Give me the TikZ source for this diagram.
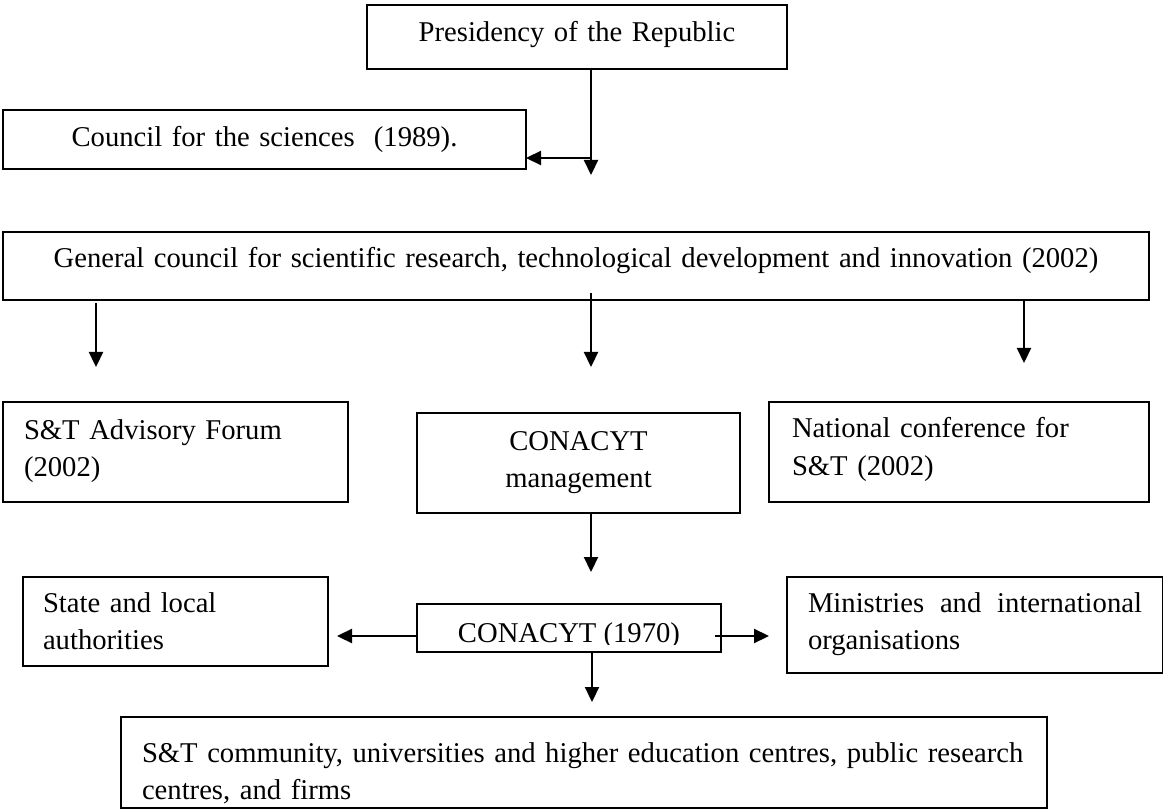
\documentclass[tikz,border=0pt]{standalone}
\usepackage{fontspec}
\setmainfont{Liberation Serif}
\usetikzlibrary{arrows.meta}
\begin{document}
\begin{tikzpicture}[x=1pt,y=-1pt,
  box/.style={draw, line width=1.6pt, anchor=north west, inner ysep=0pt,
    outer sep=0pt, font=\fontsize{28.65}{37.5}\selectfont},
  ctr/.style={align=center, inner xsep=0pt},
  lft/.style={align=left},
  arr/.style={line width=2.2pt, -{Triangle[length=15pt,width=14pt]}}]
\useasboundingbox (0,0) rectangle (1163,810);

% top level
\node[box, ctr, text width=420pt, text height=37pt, text depth=27pt]
  (pres) at (367,5) {Presidency of the Republic};
\node[box, ctr, text width=523pt, text height=37pt, text depth=22pt]
  (council) at (3,110) {Council for the sciences\ \ (1989).};
\node[box, ctr, text width=1146pt, text height=36pt, text depth=32pt]
  (general) at (3,232)
  {General council for scientific research, technological development and innovation (2002)};

% second level
\node[box, lft, inner xsep=21pt, text width=303pt, text height=37pt, text depth=63pt]
  (forum) at (3,402) {S\&T Advisory Forum\\(2002)};
\node[box, ctr, text width=323pt, text height=37pt, text depth=63pt]
  (mgmt) at (417,413) {CONACYT\\management};
\node[box, lft, inner xsep=23pt, text width=334pt, text height=36pt, text depth=64pt]
  (natconf) at (769,402) {National conference for\\S\&T (2002)};

% third level
\node[box, lft, inner xsep=20pt, text width=265pt, text height=35pt, text depth=54pt]
  (state) at (23,577) {State and local\\authorities};
\node[box, minimum width=304pt, minimum height=48pt, inner sep=0pt]
  (conacyt) at (417,604) {};
\begin{scope}
  \clip (417,604) rectangle (721,644);
  \node[anchor=base, inner sep=0pt, font=\fontsize{28.65}{37.5}\selectfont]
    (conacyttext) at (569,642) {CONACYT (1970)};
\end{scope}
\node[box, lft, inner xsep=21pt, text width=334pt, text height=35pt, text depth=61pt]
  (ministries) at (787,577)
  {\makebox[334pt][l]{Ministries\hfill and\hfill international}\\organisations};

% bottom level
\node[box, lft, inner xsep=21pt, text width=884pt, text height=45pt, text depth=46pt]
  (community) at (121,717)
  {\mbox{S\&T community, universities and higher education centres, public research}\\centres, and firms};

% arrow end points
\coordinate (ptip) at (591,175);
\coordinate (pjoin) at (591,158);
\coordinate (gtipl) at (96,367);
\coordinate (gtipc) at (591,367);
\coordinate (gtipr) at (1024,363);
\coordinate (mtip) at (591,572);
\coordinate (ltip) at (337,636);
\coordinate (rtip) at (769,636);
\coordinate (dtip) at (592,702);

% connectors
\draw[arr] (pres.south -| ptip) -- (ptip);
\draw[arr] (pjoin) -- (pjoin -| council.east);
\draw[arr] ([yshift=-3pt]general.south -| gtipl) -- (gtipl);
\draw[arr] ([yshift=7pt]general.south -| gtipc) -- (gtipc);
\draw[arr] (general.south -| gtipr) -- (gtipr);
\draw[arr] (mgmt.south -| mtip) -- (mtip);
\draw[arr] (ltip -| conacyt.west) -- (ltip);
\draw[arr] ([xshift=-6pt]rtip -| conacyt.east) -- (rtip);
\draw[arr] (conacyt.south -| dtip) -- (dtip);
\end{tikzpicture}
\end{document}
